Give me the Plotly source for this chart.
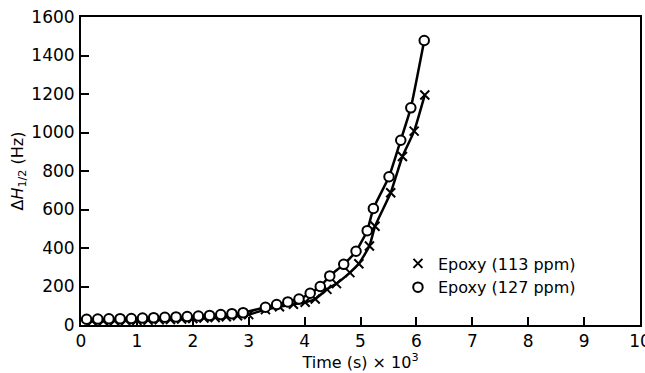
import plotly.graph_objects as go

# Line width ΔH1/2 (Hz) against cure time (s × 10^3)
t_127 = [0.1, 0.3, 0.5, 0.7, 0.9, 1.1, 1.3, 1.5, 1.7, 1.9, 2.1, 2.3, 2.5, 2.7, 2.9,
         3.3, 3.5, 3.7, 3.9, 4.1, 4.28, 4.45, 4.7, 4.92, 5.12, 5.23, 5.51, 5.72, 5.9, 6.14]
h_127 = [30, 31, 32, 33, 34, 36, 38, 40, 42, 44, 47, 50, 54, 59, 64,
         92, 106, 120, 135, 165, 200, 255, 315, 383, 490, 605, 770, 960, 1128, 1478]

t_113 = [0.2, 0.4, 0.6, 0.8, 1.0, 1.2, 1.4, 1.6, 1.8, 2.0, 2.2, 2.4, 2.6, 2.8, 3.0,
         3.3, 3.55, 3.8, 4.01, 4.19, 4.4, 4.57, 4.81, 4.97, 5.16, 5.26, 5.54, 5.75, 5.96, 6.15]
h_113 = [20, 21, 22, 23, 24, 25, 27, 29, 31, 33, 36, 39, 43, 48, 54,
         80, 95, 108, 118, 135, 185, 215, 272, 318, 410, 513, 687, 875, 1007, 1195]

x_ticks = list(range(0, 11))
y_ticks = list(range(0, 1601, 200))

FONT = "DejaVu Sans"
fig = go.Figure()

# smooth curves through each series
for tx, hy in ((t_113, h_113), (t_127, h_127)):
    fig.add_trace(go.Scatter(x=tx, y=hy, mode="lines", showlegend=False,
                             line=dict(color="black", width=2.5, shape="spline", smoothing=0.4),
                             hoverinfo="skip"))

fig.add_trace(go.Scatter(x=t_113, y=h_113, mode="markers", name="Epoxy (113 ppm)",
                         marker=dict(symbol="x-thin-open", size=9, color="black",
                                     line=dict(color="black", width=2))))
fig.add_trace(go.Scatter(x=t_127, y=h_127, mode="markers", name="Epoxy (127 ppm)",
                         marker=dict(symbol="circle", size=9.5, color="white",
                                     line=dict(color="black", width=2))))

axis_common = dict(showgrid=False, zeroline=False, showline=True, linecolor="black",
                   linewidth=2, mirror=True, ticks="inside", ticklen=8, tickwidth=2,
                   tickcolor="black", automargin=False,
                   tickfont=dict(family=FONT, size=17, color="black"))

fig.update_xaxes(range=[0, 10], tickvals=x_ticks, ticklabeloverflow="allow",
                 title=dict(text="Time (s) × 10<sup>3</sup>", standoff=4,
                            font=dict(family=FONT, size=16, color="black")),
                 **axis_common)
fig.update_yaxes(range=[0, 1600], tickvals=y_ticks, ticklabelstandoff=1,
                 title=dict(text="Δ<i>H</i><sub>1/2</sub> (Hz)", standoff=4,
                            font=dict(family=FONT, size=16, color="black")),
                 **axis_common)

fig.update_layout(
    width=645, height=373,
    margin=dict(l=81, r=5, t=17, b=48, autoexpand=False),
    paper_bgcolor="white", plot_bgcolor="white",
    font=dict(family=FONT, color="black"),
    legend=dict(x=0.567, y=0.255, xanchor="left", yanchor="top",
                bgcolor="rgba(0,0,0,0)", tracegroupgap=0,
                font=dict(family=FONT, size=16, color="black"),
                itemwidth=30),
)

fig.write_html("out.html")
